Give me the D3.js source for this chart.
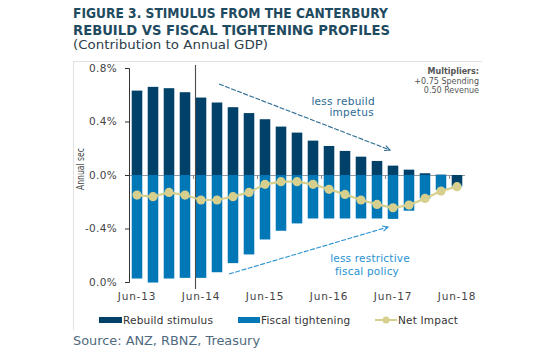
<!DOCTYPE html>
<html><head><meta charset="utf-8">
<script src="https://cdn.jsdelivr.net/npm/d3@7"></script>
<style>
html,body{margin:0;padding:0;background:#fff;}
svg{display:block;font-family:"DejaVu Sans",Verdana,sans-serif;}
</style></head>
<body><svg id="c" width="550" height="356"></svg>
<script>
const categories = ["Jun-13","Sep-13","Dec-13","Mar-14","Jun-14","Sep-14","Dec-14","Mar-15","Jun-15","Sep-15","Dec-15","Mar-16","Jun-16","Sep-16","Dec-16","Mar-17","Jun-17","Sep-17","Dec-17","Mar-18","Jun-18"];
const rebuildStimulus = [0.631,0.659,0.649,0.619,0.579,0.542,0.507,0.463,0.417,0.362,0.317,0.257,0.217,0.180,0.137,0.105,0.070,0.040,0.013,0.003,-0.075];
const fiscalTightening = [-0.774,-0.804,-0.774,-0.769,-0.769,-0.727,-0.659,-0.594,-0.482,-0.417,-0.362,-0.325,-0.325,-0.325,-0.325,-0.325,-0.328,-0.267,-0.175,-0.112,-0.012];
const netImpact = [-0.150,-0.162,-0.130,-0.150,-0.187,-0.187,-0.162,-0.130,-0.070,-0.050,-0.050,-0.070,-0.107,-0.145,-0.187,-0.220,-0.245,-0.225,-0.175,-0.120,-0.087];
const yTickValues = [0.8,0.4,0.0,-0.4,-0.8];
const yTickLabels = ["0.8%","0.4%","0.0%","-0.4%","0.0%"];
const xLabelCats = ["Jun-13","Jun-14","Jun-15","Jun-16","Jun-17","Jun-18"];
const seriesNames = ["Rebuild stimulus","Fiscal tightening","Net Impact"];

const C_DARK = "#00416a", C_BLUE = "#0078b8", C_NET = "#d6cf8e";

const svg = d3.select("#c");

// frame
svg.append("line").attr("x1",73).attr("x2",482).attr("y1",61.5).attr("y2",61.5).attr("stroke","#e2e2e2");
svg.append("line").attr("x1",73.5).attr("x2",73.5).attr("y1",61).attr("y2",330).attr("stroke","#e2e2e2");

// titles
svg.append("text").attr("x",73).attr("y",18).attr("font-weight","bold").attr("font-size",13.5)
  .attr("fill","#1f4b60").attr("textLength",315).attr("lengthAdjust","spacingAndGlyphs")
  .text("FIGURE 3. STIMULUS FROM THE CANTERBURY");
svg.append("text").attr("x",73).attr("y",34.5).attr("font-weight","bold").attr("font-size",13.5)
  .attr("fill","#1f4b60").attr("textLength",317).attr("lengthAdjust","spacingAndGlyphs")
  .text("REBUILD VS FISCAL TIGHTENING PROFILES");
svg.append("text").attr("x",73).attr("y",48.5).attr("font-size",13)
  .attr("fill","#2d3e4a").attr("textLength",195).attr("lengthAdjust","spacingAndGlyphs")
  .text("(Contribution to Annual GDP)");
svg.append("text").attr("x",73).attr("y",345).attr("font-size",13)
  .attr("fill","#4f6a7e").attr("textLength",187).attr("lengthAdjust","spacingAndGlyphs")
  .text("Source: ANZ, RBNZ, Treasury");

// scales
const x = d3.scaleBand().domain(categories).range([129,465]).paddingInner(0.34).paddingOuter(0.17);
const y = d3.scaleLinear().domain([-0.8,0.8]).range([282,68]);

// stack
const rows = categories.map((c,i)=>({cat:c, rebuild:rebuildStimulus[i], fiscal:fiscalTightening[i]}));
const stack = d3.stack().keys(["rebuild","fiscal"]).offset(d3.stackOffsetDiverging);
const layers = stack(rows);
const colors = {rebuild:C_DARK, fiscal:C_BLUE};

// zero line
svg.append("line").attr("x1",129).attr("x2",465).attr("y1",y(0)+0.5).attr("y2",y(0)+0.5)
  .attr("stroke","#9a9a9a").attr("stroke-width",1);

const g = svg.append("g");
layers.forEach(L=>{
  g.selectAll(null).data(L).join("rect")
    .attr("x",d=>x(d.data.cat)).attr("width",x.bandwidth())
    .attr("y",d=>y(Math.max(d[0],d[1]))).attr("height",d=>Math.abs(y(d[0])-y(d[1])))
    .attr("fill",colors[L.key]);
});

// x tick marks at category boundaries
const tickCats = ["Jun-14","Jun-15","Jun-16","Jun-17","Jun-18"];
svg.selectAll(null).data(tickCats).join("line")
  .attr("x1",d=>Math.round(x(d)-x.step()*x.paddingInner()/2)+0.5)
  .attr("x2",d=>Math.round(x(d)-x.step()*x.paddingInner()/2)+0.5)
  .attr("y1",y(0)).attr("y2",y(0)+4).attr("stroke","#8a8a8a");

// vertical marker line
svg.append("line").attr("x1",195.5).attr("x2",195.5).attr("y1",65).attr("y2",289)
  .attr("stroke","#4a4a4a").attr("stroke-width",1.1);

// y axis
const yAxis = d3.axisLeft(y).tickValues(yTickValues).tickSize(4).tickPadding(8)
  .tickFormat((d,i)=>yTickLabels[i]);
const ya = svg.append("g").attr("transform","translate(129,0)").call(yAxis);
ya.select(".domain").attr("stroke","#333");
ya.selectAll(".tick line").attr("stroke","#333");
ya.selectAll(".tick text").attr("font-size",10.5).attr("fill","#444")
  .attr("font-family","'DejaVu Sans',Verdana,sans-serif").style("letter-spacing","0.3px");

// x labels
svg.selectAll(null).data(xLabelCats).join("text")
  .attr("x",d=>x(d)+x.bandwidth()/2).attr("y",300).attr("text-anchor","middle")
  .attr("font-size",10.5).attr("fill","#444").style("letter-spacing","0.8px").text(d=>d);

// y axis title (partially visible in original)
svg.append("text").attr("transform","translate(84,169) rotate(-90)").attr("text-anchor","middle")
  .attr("font-size",11).attr("fill","#444").attr("textLength",42).attr("lengthAdjust","spacingAndGlyphs")
  .text("Annual sec");

// net impact line
const lineGen = d3.line().x((d,i)=>x(categories[i])+x.bandwidth()/2).y(d=>y(d));
svg.append("path").datum(netImpact).attr("d",lineGen).attr("fill","none")
  .attr("stroke",C_NET).attr("stroke-width",2.2);
svg.selectAll(null).data(netImpact).join("circle")
  .attr("cx",(d,i)=>x(categories[i])+x.bandwidth()/2).attr("cy",d=>y(d)).attr("r",4.6)
  .attr("fill",C_NET);

// annotations
function arrow(x1,y1,x2,y2,color){
  svg.append("line").attr("x1",x1).attr("y1",y1).attr("x2",x2).attr("y2",y2)
    .attr("stroke",color).attr("stroke-width",1.1).attr("stroke-dasharray","5,1.5");
  const a = Math.atan2(y2-y1,x2-x1), L=6, w=0.45;
  const p1=[x2-L*Math.cos(a-w), y2-L*Math.sin(a-w)], p2=[x2-L*Math.cos(a+w), y2-L*Math.sin(a+w)];
  svg.append("path").attr("d",`M${p1[0]},${p1[1]}L${x2},${y2}L${p2[0]},${p2[1]}`)
    .attr("fill","none").attr("stroke",color).attr("stroke-width",1.1);
}
arrow(219,84,390,150,"#2b6a92");
arrow(229,274,388,227,"#2a92d2");

const ann1 = svg.append("text").attr("font-size",10.5).attr("fill","#2b6a92").attr("text-anchor","end").style("letter-spacing","0.3px");
ann1.append("tspan").attr("x",375).attr("y",105).text("less rebuild");
ann1.append("tspan").attr("x",374).attr("y",116).text("impetus");
const ann2 = svg.append("text").attr("font-size",10.5).attr("fill","#2a92d2").attr("text-anchor","middle").style("letter-spacing","0.2px");
ann2.append("tspan").attr("x",370).attr("y",262).text("less restrictive");
ann2.append("tspan").attr("x",367).attr("y",275).text("fiscal policy");

// multipliers
const mt = svg.append("text").attr("font-size",8).attr("fill","#555").attr("text-anchor","end");
mt.append("tspan").attr("x",479).attr("y",74).attr("font-weight","bold").text("Multipliers:");
mt.append("tspan").attr("x",479).attr("y",83.5).text("+0.75 Spending");
mt.append("tspan").attr("x",479).attr("y",92.5).text("0.50 Revenue");

// legend
const lg = svg.append("g").attr("font-size",10.5).attr("fill","#333");
lg.append("rect").attr("x",99).attr("y",317).attr("width",23).attr("height",6).attr("fill",C_DARK);
lg.append("text").attr("x",123).attr("y",324).style("letter-spacing","0.2px").text(seriesNames[0]);
lg.append("rect").attr("x",238).attr("y",317).attr("width",22).attr("height",6).attr("fill",C_BLUE);
lg.append("text").attr("x",261).attr("y",324).style("letter-spacing","0.2px").text(seriesNames[1]);
lg.append("line").attr("x1",375).attr("x2",397).attr("y1",320).attr("y2",320).attr("stroke",C_NET).attr("stroke-width",2);
lg.append("circle").attr("cx",386).attr("cy",320).attr("r",3.5).attr("fill",C_NET);
lg.append("text").attr("x",398).attr("y",324).style("letter-spacing","0.2px").text(seriesNames[2]);
</script></body></html>
